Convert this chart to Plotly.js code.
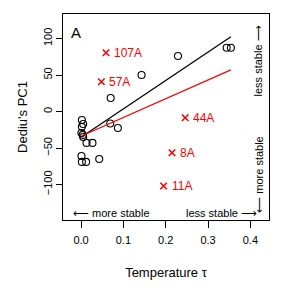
<!DOCTYPE html>
<html><head><meta charset="utf-8">
<script src="https://cdn.plot.ly/plotly-3.0.1.min.js"></script>
<style>html,body{margin:0;padding:0;background:#fff}#plot{width:285px;height:285px}</style>
</head><body><div id="plot"></div>
<script>
// Circles (languages without label)
var circleTemp = [0.002,0.005,0.002,0.001,0.004,0.005,0.013,0.027,0.069,0.087,0.001,0.002,0.012,0.043,0.070,0.143,0.229,0.344,0.354];
var circlePC1  = [-11.6,-17,-21,-29.5,-32,-35,-43,-43,-16.4,-22.6,-61,-69,-69,-65,18.5,50,76,87.4,87.4];
// Labelled outliers (red crosses)
var crossLabels = ["107A","57A","44A","8A","11A"];
var crossTemp = [0.059,0.048,0.246,0.215,0.195];
var crossPC1  = [80.5,40.8,-8.5,-56.4,-102];
// Fit lines (endpoints)
var fitTemp = [0.001,0.354];
var fitBlack = [-35,102.5];
var fitRed = [-33.5,57];
var xTicks = [0,0.1,0.2,0.3,0.4];
var xTickText = ["0.0","0.1","0.2","0.3","0.4"];
var yTicks = [-100,-50,0,50,100];
var yTickText = ["\u2212100","\u221250","0","50","100"];

var FONT = "Liberation Sans, Arial, sans-serif";
var traces = [
  {x: circleTemp, y: circlePC1, mode: 'markers', type: 'scatter',
   marker: {symbol: 'circle-open', size: 7, color: '#000', line: {width: 1.1, color: '#000'}}},
  {x: crossTemp, y: crossPC1, mode: 'markers', type: 'scatter',
   marker: {symbol: 'x-thin-open', size: 6.5, color: '#ff0000', line: {width: 1.6, color: '#ff0000'}}},
  {x: fitTemp, y: fitBlack, mode: 'lines', type: 'scatter', line: {color: '#000', width: 1.3}},
  {x: fitTemp, y: fitRed, mode: 'lines', type: 'scatter', line: {color: '#ff0000', width: 1.3}}
];
var ann = crossLabels.map(function(t, i){
  return {x: crossTemp[i], y: crossPC1[i], xref: 'x', yref: 'y', text: t, showarrow: false,
    xanchor: 'left', yanchor: 'middle', xshift: 6, font: {family: FONT, size: 12, color: '#ff0000'}};
});
ann.push({xref: 'paper', yref: 'paper', x: 0.062, y: 0.909, text: 'A', showarrow: false,
  xanchor: 'center', yanchor: 'middle', font: {family: FONT, size: 15, color: '#000'}});
ann.push({xref: 'paper', yref: 'paper', x: 0.947, y: 0.77, text: 'less stable \u27F6', textangle: -90, showarrow: false,
  xanchor: 'center', yanchor: 'middle', font: {family: FONT, size: 11, color: '#000'}});
ann.push({xref: 'paper', yref: 'paper', x: 0.952, y: 0.22, text: '\u27F5 more stable', textangle: -90, showarrow: false,
  xanchor: 'center', yanchor: 'middle', font: {family: FONT, size: 11, color: '#000'}});
ann.push({xref: 'paper', yref: 'paper', x: 0.235, y: 0.035, text: '\u27F5 more stable', showarrow: false,
  xanchor: 'center', yanchor: 'middle', font: {family: FONT, size: 11, color: '#000'}});
ann.push({xref: 'paper', yref: 'paper', x: 0.770, y: 0.035, text: 'less stable \u27F6', showarrow: false,
  xanchor: 'center', yanchor: 'middle', font: {family: FONT, size: 11, color: '#000'}});

var layout = {
  width: 285, height: 285, showlegend: false,
  paper_bgcolor: '#fff', plot_bgcolor: '#fff',
  margin: {l: 63, r: 16, t: 14, b: 65},
  font: {family: FONT, color: '#000'},
  xaxis: {range: [-0.0426, 0.444], tickvals: xTicks, ticktext: xTickText, ticks: 'outside', ticklen: 7,
    tickcolor: '#000', showline: true, mirror: true, linecolor: '#000', linewidth: 1, showgrid: false, zeroline: false,
    ticklabelstandoff: 3,
    tickfont: {size: 11, family: FONT}, title: {text: 'Temperature \u03C4', font: {size: 13, family: FONT}, standoff: 22}},
  yaxis: {range: [-148.6, 133.6], tickvals: yTicks, ticktext: yTickText, ticks: 'outside', ticklen: 6, tickangle: -90,
    tickcolor: '#000', showline: true, mirror: true, linecolor: '#000', linewidth: 1, showgrid: false, zeroline: false,
    tickfont: {size: 11, family: FONT}, title: {text: "Dediu's PC1", font: {size: 13, family: FONT}, standoff: 11}},
  annotations: ann
};
Plotly.newPlot('plot', traces, layout, {staticPlot: true, displayModeBar: false});
</script></body></html>
